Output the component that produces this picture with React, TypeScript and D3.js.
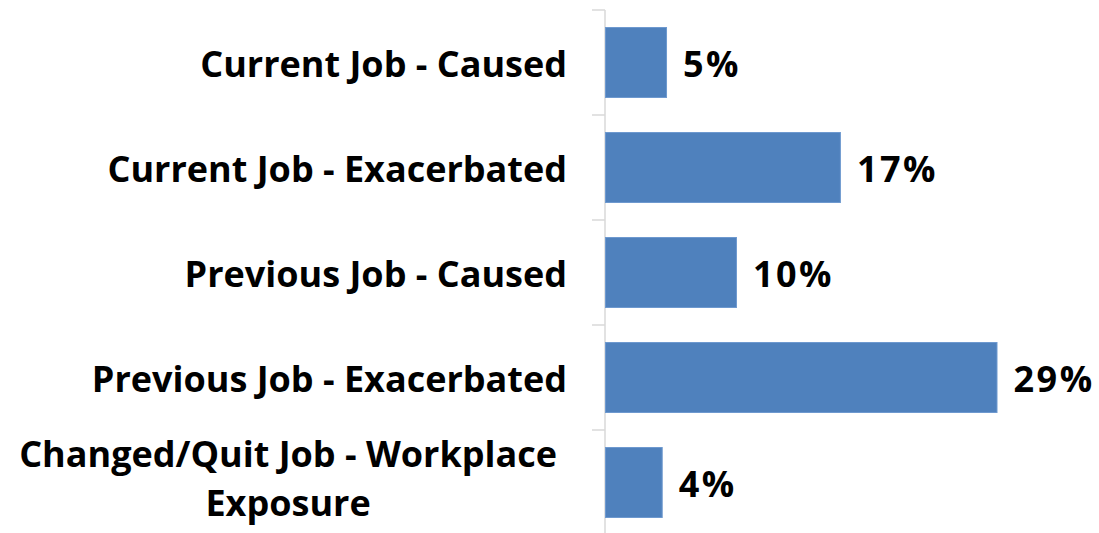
import React, { useEffect, useRef } from "react";
import * as d3 from "d3";

const categories: string[][] = [
  ["Current Job - Caused"],
  ["Current Job - Exacerbated"],
  ["Previous Job - Caused"],
  ["Previous Job - Exacerbated"],
  ["Changed/Quit Job - Workplace", "Exposure"],
];
const values: number[] = [4.52, 17.4, 9.7, 29.0, 4.2];
const xMax = 30;

const W = 1099;
const H = 533;

export default function App() {
  const ref = useRef<SVGSVGElement | null>(null);

  useEffect(() => {
    document.body.style.margin = "0";
    const svg = d3.select(ref.current);
    svg.selectAll("*").remove();

    const keys = categories.map((c) => c.join(" "));
    const y = d3
      .scaleBand<string>()
      .domain(keys)
      .range([10, 535])
      .paddingInner(1 / 3)
      .paddingOuter(1 / 6);
    const x = d3.scaleLinear().domain([0, xMax]).range([605, 605 + 405]);

    const font = "'Open Sans', sans-serif";
    const fs = 36;

    // axis line
    svg
      .append("line")
      .attr("x1", x(0))
      .attr("x2", x(0))
      .attr("y1", 10)
      .attr("y2", 535)
      .attr("stroke", "#d9d9d9")
      .attr("stroke-width", 1.5);

    // ticks at band boundaries
    const step = y.step();
    const boundaries = keys.map((k) => (y(k) as number) - step / 6);
    svg
      .selectAll("line.tick")
      .data(boundaries)
      .enter()
      .append("line")
      .attr("class", "tick")
      .attr("x1", x(0) - 13)
      .attr("x2", x(0))
      .attr("y1", (d) => d)
      .attr("y2", (d) => d)
      .attr("stroke", "#d9d9d9")
      .attr("stroke-width", 1.5);

    // bars
    svg
      .selectAll("rect.bar")
      .data(values)
      .enter()
      .append("rect")
      .attr("class", "bar")
      .attr("x", x(0) + 0.5)
      .attr("y", (_, i) => y(keys[i]) as number)
      .attr("width", (d) => x(d) - x(0))
      .attr("height", y.bandwidth())
      .attr("fill", "#4F81BD")
      .attr("stroke", "#6E99CF")
      .attr("stroke-width", 1);

    // value labels
    svg
      .selectAll("text.val")
      .data(values)
      .enter()
      .append("text")
      .attr("class", "val")
      .attr("x", (d) => x(d) + 17)
      .attr("y", (_, i) => (y(keys[i]) as number) + y.bandwidth() / 2 + 14)
      .attr("font-family", font)
      .attr("font-weight", 700)
      .attr("font-size", fs)
      .attr("letter-spacing", 2.5)
      .attr("fill", "#000")
      .text((d) => d3.format(".0f")(d) + "%");

    // category labels
    const labelRight = 567;
    categories.forEach((lines, i) => {
      const cy = (y(keys[i]) as number) + y.bandwidth() / 2;
      if (lines.length === 1) {
        svg
          .append("text")
          .attr("x", labelRight)
          .attr("y", cy + 14)
          .attr("text-anchor", "end")
          .attr("font-family", font)
          .attr("font-weight", 700)
          .attr("font-size", fs)
          .attr("fill", "#000")
          .text(lines[0]);
      } else {
        const g = svg.append("g");
        const texts = lines.map((ln, j) =>
          g
            .append("text")
            .attr("y", cy - 16 + j * 49)
            .attr("text-anchor", "middle")
            .attr("font-family", font)
            .attr("font-weight", 700)
            .attr("font-size", fs)
            .attr("fill", "#000")
            .text(ln)
        );
        const maxW = d3.max(texts, (t) => (t.node() as SVGTextElement).getComputedTextLength()) || 0;
        const cx = labelRight - 10 - maxW / 2;
        texts.forEach((t) => t.attr("x", cx));
      }
    });
  }, []);

  return <svg ref={ref} width={W} height={H} style={{ display: "block", background: "#fff" }} />;
}
